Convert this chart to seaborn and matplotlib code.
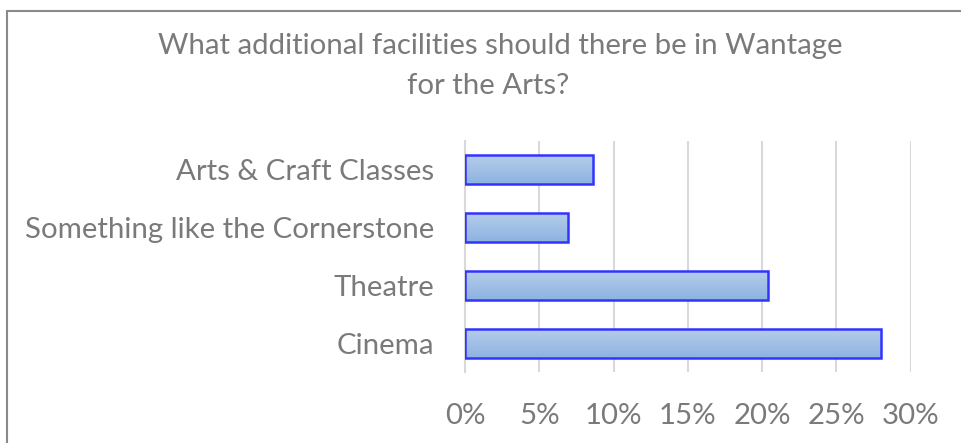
import matplotlib
matplotlib.use('Agg')
import matplotlib.pyplot as plt
import matplotlib.patches as mpatches
from matplotlib.colors import LinearSegmentedColormap
import numpy as np
import pandas as pd
import seaborn as sns

## chart data
categories = ['Arts & Craft Classes', 'Something like the Cornerstone', 'Theatre', 'Cinema']
shares = [8.6, 6.9, 20.4, 28.0]
tick_values = [0, 5, 10, 15, 20, 25, 30]
tick_labels = ['0%', '5%', '10%', '15%', '20%', '25%', '30%']
title_lines = ['What additional facilities should there be in Wantage', 'for the Arts?']

sns.set_style('white')
plt.rcParams['font.family'] = ['Lato', 'DejaVu Sans']
grey = '#7a7a7a'

df = pd.DataFrame({'facility': categories, 'share': shares})

fig = plt.figure(figsize=(9.61, 4.43), dpi=100)
ax = fig.add_axes([465 / 961, 1 - 372 / 443, (910.7 - 465) / 961, (372 - 141) / 443])

sns.barplot(data=df, x='share', y='facility', orient='h', width=0.5,
            color='#a3c0e6', edgecolor='#3333ff', linewidth=1.8, ax=ax, zorder=3)

# gradient fill inside each bar (light top, darker bottom)
cmap = LinearSegmentedColormap.from_list('bar', ['#b5cce9', '#8db3e2'])
grad = np.linspace(0, 1, 64).reshape(-1, 1)
for p in ax.patches:
    x0, y0 = p.get_x(), p.get_y()
    w, h = p.get_width(), p.get_height()
    im = ax.imshow(grad, cmap=cmap, aspect='auto', origin='upper',
                   extent=(x0, x0 + w, y0 + h, y0), zorder=2.5, interpolation='bilinear')
    im.set_clip_path(p)
    p.set_facecolor('none')

ax.set_xlim(0, 30)
ax.set_ylim(3.5, -0.5)
ax.set_xticks(tick_values)
ax.set_xticklabels(tick_labels)
ax.xaxis.grid(True, color='#d9d9d9', linewidth=1.5, zorder=0)
ax.yaxis.grid(False)
ax.set_axisbelow(True)
for s in ['top', 'right', 'bottom']:
    ax.spines[s].set_visible(False)
ax.spines['left'].set_color('#d9d9d9')
ax.spines['left'].set_linewidth(1.5)
ax.tick_params(axis='both', length=0, labelsize=21.2, labelcolor=grey)
ax.tick_params(axis='y', pad=22)
ax.tick_params(axis='x', pad=22)
ax.set_xlabel('')
ax.set_ylabel('')

# title, two lines as Excel wrapped it
fig.text(500 / 961, 1 - 46 / 443, title_lines[0], ha='center', va='center',
         fontsize=21.2, color=grey)
fig.text(488 / 961, 1 - 86 / 443, title_lines[1], ha='center', va='center',
         fontsize=21.2, color=grey)

# chart frame, only left and top edges fall inside the picture
fig.add_artist(mpatches.Rectangle((7 / 961, -0.2), 1.2, 0.2 + 1 - 11 / 443,
                                  transform=fig.transFigure, fill=False,
                                  edgecolor='#8a8a8a', linewidth=1.5))

fig.savefig('out.png', dpi=100, facecolor='white')
